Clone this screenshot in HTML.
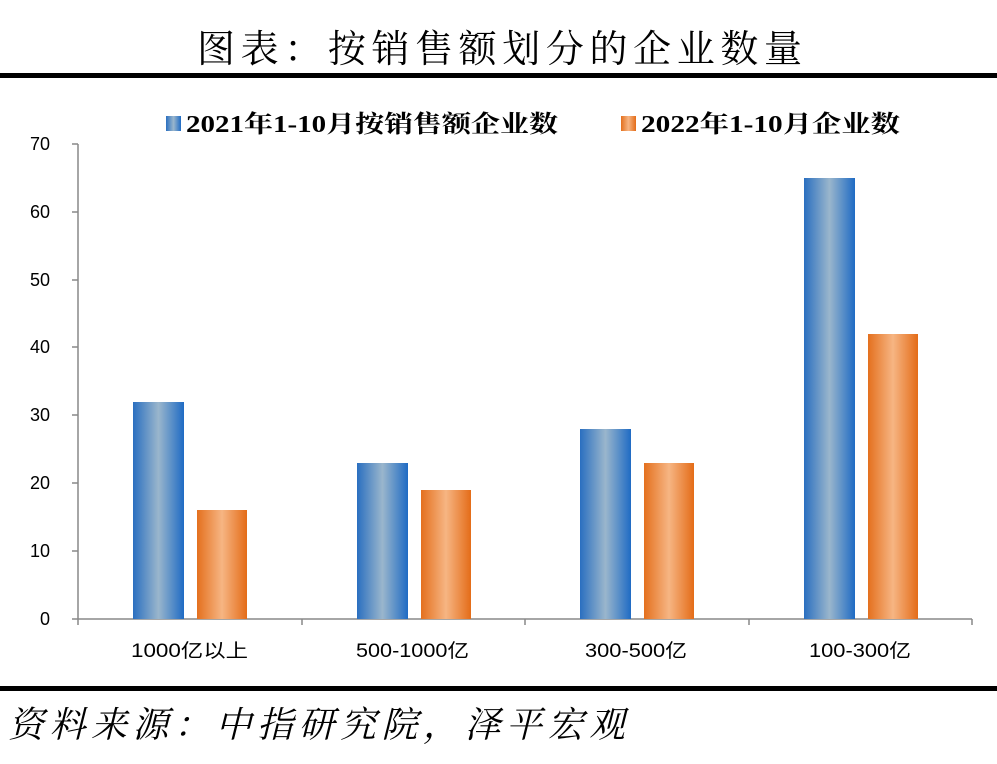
<!DOCTYPE html>
<html><head><meta charset="utf-8"><style>
body{margin:0;background:#fff;width:997px;height:759px;overflow:hidden}
</style></head><body>
<svg width="997" height="759" xmlns="http://www.w3.org/2000/svg" font-family="Liberation Sans, Noto Sans CJK SC, sans-serif">
<defs>
<linearGradient id="b" x1="0" x2="1" y1="0" y2="0"><stop offset="0" stop-color="#2a6fc0"/><stop offset="0.5" stop-color="#9ab6cc"/><stop offset="1" stop-color="#1f6bc4"/></linearGradient>
<linearGradient id="o" x1="0" x2="1" y1="0" y2="0"><stop offset="0" stop-color="#e4701e"/><stop offset="0.5" stop-color="#f6b583"/><stop offset="1" stop-color="#e46c18"/></linearGradient>
</defs>
<text x="197" y="62" font-size="38" font-family="Noto Serif CJK SC, serif" textLength="605" lengthAdjust="spacing">图表：按销售额划分的企业数量</text>
<rect x="0" y="73" width="997" height="5" fill="#000"/>
<rect x="0" y="686" width="997" height="5" fill="#000"/>
<text x="8" y="737" font-size="36" font-style="italic" font-family="Noto Serif CJK SC, serif" textLength="617" lengthAdjust="spacing">资料来源：中指研究院，泽平宏观</text>
<rect x="166" y="116" width="15" height="15" fill="url(#b)"/>
<text x="186" y="132" font-size="24" font-weight="bold" font-family="Liberation Serif, Noto Serif CJK SC, serif" textLength="372" lengthAdjust="spacingAndGlyphs">2021年1-10月按销售额企业数</text>
<rect x="621" y="116" width="15" height="15" fill="url(#o)"/>
<text x="641" y="132" font-size="24" font-weight="bold" font-family="Liberation Serif, Noto Serif CJK SC, serif" textLength="259" lengthAdjust="spacingAndGlyphs">2022年1-10月企业数</text>
<g stroke="#888" stroke-width="1.5" fill="none">
<line x1="78" y1="144" x2="78" y2="619"/>
<line x1="72" y1="619" x2="972" y2="619"/>
<line x1="72" y1="144" x2="78" y2="144"/><line x1="72" y1="212" x2="78" y2="212"/><line x1="72" y1="280" x2="78" y2="280"/><line x1="72" y1="347" x2="78" y2="347"/><line x1="72" y1="415" x2="78" y2="415"/><line x1="72" y1="483" x2="78" y2="483"/><line x1="72" y1="551" x2="78" y2="551"/>
<line x1="78" y1="619" x2="78" y2="625"/><line x1="302" y1="619" x2="302" y2="625"/><line x1="525" y1="619" x2="525" y2="625"/><line x1="749" y1="619" x2="749" y2="625"/><line x1="972" y1="619" x2="972" y2="625"/>
</g>
<g font-size="18" text-anchor="end" fill="#000">
<text x="50" y="625">0</text><text x="50" y="557">10</text><text x="50" y="489">20</text><text x="50" y="421">30</text><text x="50" y="353">40</text><text x="50" y="286">50</text><text x="50" y="218">60</text><text x="50" y="150">70</text>
</g>
<g font-size="19">
<text x="131" y="657" textLength="117" lengthAdjust="spacingAndGlyphs">1000亿以上</text>
<text x="356" y="657" textLength="113" lengthAdjust="spacingAndGlyphs">500-1000亿</text>
<text x="585" y="657" textLength="102" lengthAdjust="spacingAndGlyphs">300-500亿</text>
<text x="809" y="657" textLength="102" lengthAdjust="spacingAndGlyphs">100-300亿</text>
</g>
<g>
<rect x="133" y="402" width="51" height="217" fill="url(#b)"/>
<rect x="197" y="510" width="50" height="109" fill="url(#o)"/>
<rect x="357" y="463" width="51" height="156" fill="url(#b)"/>
<rect x="421" y="490" width="50" height="129" fill="url(#o)"/>
<rect x="580" y="429" width="51" height="190" fill="url(#b)"/>
<rect x="644" y="463" width="50" height="156" fill="url(#o)"/>
<rect x="804" y="178" width="51" height="441" fill="url(#b)"/>
<rect x="868" y="334" width="50" height="285" fill="url(#o)"/>
</g>
</svg>
</body></html>
